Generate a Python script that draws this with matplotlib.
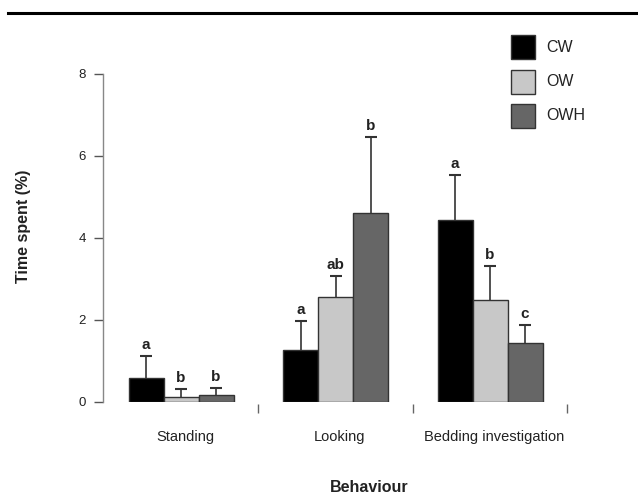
import matplotlib
matplotlib.use("Agg")
import matplotlib.pyplot as plt
from matplotlib.lines import Line2D
from matplotlib.patches import Rectangle
from matplotlib.transforms import ScaledTranslation
import numpy as np

plt.rcParams['font.family'] = ['Liberation Sans', 'DejaVu Sans']

categories = ["Standing", "Looking", "Bedding investigation"]
groups = ["CW", "OW", "OWH"]
means = {
    "CW":  [0.59, 1.27, 4.45],
    "OW":  [0.12, 2.57, 2.50],
    "OWH": [0.16, 4.60, 1.43],
}
errors = {
    "CW":  [0.52, 0.70, 1.08],
    "OW":  [0.20, 0.51, 0.82],
    "OWH": [0.18, 1.87, 0.45],
}
letters = {
    "CW":  ["a", "a", "a"],
    "OW":  ["b", "ab", "b"],
    "OWH": ["b", "b", "c"],
}
colors = {"CW": "#000000", "OW": "#c8c8c8", "OWH": "#666666"}
y_ticks = [0, 2, 4, 6, 8]

W, H = 638, 496
fig = plt.figure(figsize=(W / 100, H / 100), dpi=100)

# axes in pixel layout
px_per_unit = 154.5
x_left_px, x_right_px = 103, 630
y_bot_px, y_top_px = 402, 74
ax = fig.add_axes([x_left_px / W, (H - y_bot_px) / H,
                   (x_right_px - x_left_px) / W, (y_bot_px - y_top_px) / H])
xmin = (x_left_px - 181) / px_per_unit
ax.set_xlim(xmin, xmin + (x_right_px - x_left_px) / px_per_unit)
ax.set_ylim(0, 8)

bw = 35 / px_per_unit
x = np.arange(len(categories))
for i, g in enumerate(groups):
    xs = x + (i - 1) * bw
    ax.bar(xs, means[g], width=bw, color=colors[g], edgecolor="#333333",
           linewidth=1.0, zorder=2)
    eb = ax.errorbar(xs, means[g], yerr=[np.zeros(len(xs)), errors[g]],
                     fmt="none", ecolor="#333333", elinewidth=1.2,
                     capsize=4.3, capthick=1.5, zorder=3)
    caps = eb[1]
    if len(caps) == 2:
        caps[0].set_visible(False)
    for xx, m, e, t in zip(xs, means[g], errors[g], letters[g]):
        ax.annotate(t, (xx, m + e), xytext=(0, 3), textcoords="offset points",
                    ha="center", va="bottom", fontsize=11, fontweight="bold",
                    color="#222222")

# spines
for s in ["top", "right", "bottom"]:
    ax.spines[s].set_visible(False)
ax.spines["left"].set_color("#888888")
ax.spines["left"].set_linewidth(1.0)
ax.spines["left"].set_bounds(0, 8)

ax.set_yticks(y_ticks)
ax.set_yticklabels([str(t) for t in y_ticks], fontsize=9.5, color="#222222")
ax.tick_params(axis="y", direction="out", length=6.5, width=1.0,
               color="#555555", pad=6)

# separator ticks and category labels
ax.set_xticks([0.5, 1.5, 2.5])
ax.set_xticklabels(["", "", ""])
ax.tick_params(axis="x", which="major", direction="out", length=6.5,
               width=1.0, color="#666666")
ax.spines["bottom"].set_position(("outward", 1.5))
ax.set_xticks(x, minor=True)
ax.set_xticklabels(categories, minor=True, fontsize=10.5, color="#222222")
ax.tick_params(axis="x", which="minor", length=0, pad=19)
shift = ScaledTranslation(4 / 100, 0, fig.dpi_scale_trans)
for lbl in ax.get_xticklabels(minor=True):
    lbl.set_transform(lbl.get_transform() + shift)

fig.text(24 / W, 1 - 226 / H, "Time spent (%)", rotation=90, ha="center",
         va="center", fontsize=11.5, fontweight="bold", color="#222222")
fig.text(369 / W, 1 - 487 / H, "Behaviour", ha="center", va="center",
         fontsize=11.5, fontweight="bold", color="#222222")

# legend (manual)
sq = 24
for k, g in enumerate(groups):
    top = 35 + k * 34.5
    fig.add_artist(Rectangle((511 / W, 1 - (top + sq) / H), sq / W, sq / H,
                             transform=fig.transFigure, facecolor=colors[g],
                             edgecolor="#333333", linewidth=1.0))
    fig.text(546 / W, 1 - (top + sq / 2) / H, g, ha="left", va="center",
             fontsize=11.5, color="#222222")

# top rule line
fig.add_artist(Line2D([8 / W, 1.0], [1 - 12.5 / H, 1 - 12.5 / H],
                      transform=fig.transFigure, color="black", linewidth=2.2))

fig.savefig("out.png", dpi=100)
